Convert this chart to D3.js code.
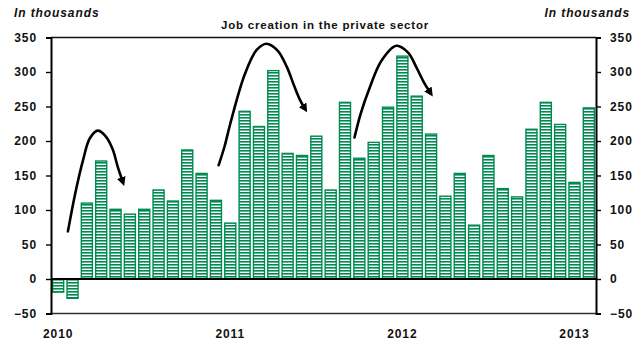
<!DOCTYPE html>
<html>
<head>
<meta charset="utf-8">
<script src="https://cdn.jsdelivr.net/npm/d3@7"></script>
<style>
  html, body { margin: 0; padding: 0; background: #fff; }
  svg text { font-family: "Liberation Sans", Arial, sans-serif; font-weight: bold; fill: #111; }
</style>
</head>
<body>
<svg id="chart" width="644" height="344"></svg>
<script>
// Monthly private-sector job creation, in thousands (Jan 2010 – Feb 2013)
const categories = [
  "2010-01","2010-02","2010-03","2010-04","2010-05","2010-06","2010-07","2010-08","2010-09","2010-10","2010-11","2010-12",
  "2011-01","2011-02","2011-03","2011-04","2011-05","2011-06","2011-07","2011-08","2011-09","2011-10","2011-11","2011-12",
  "2012-01","2012-02","2012-03","2012-04","2012-05","2012-06","2012-07","2012-08","2012-09","2012-10","2012-11","2012-12",
  "2013-01","2013-02"
];
const jobs = [
  -19, -28, 110, 171, 101, 94, 101, 129, 113, 187, 153, 114,
  81, 243, 221, 302, 182, 179, 207, 129, 256, 175, 198, 249,
  323, 265, 210, 120, 153, 78, 179, 131, 119, 217, 256, 224,
  140, 248
];
const yTicks = [-50, 0, 50, 100, 150, 200, 250, 300, 350];
const yearLabels = [
  { label: "2010", at: "2010-01" },
  { label: "2011", at: "2011-01" },
  { label: "2012", at: "2012-01" },
  { label: "2013", at: "2013-01" }
];
// Hand-drawn seasonal arcs, as [month index, thousands]
const arcs = [
  [[0.68, 69], [1.2, 125], [1.73, 172], [2.21, 204], [2.77, 215], [3.3, 207], [3.8, 188], [4.16, 162], [4.5, 141]],
  [[11.19, 165], [11.6, 192], [12.0, 225], [13.0, 296], [13.84, 332], [14.53, 341], [15.3, 331], [15.95, 307], [16.45, 280], [16.85, 260], [17.2, 247]],
  [[20.66, 205], [21.1, 240], [21.7, 276], [22.53, 316], [23.58, 338], [24.4, 328], [24.97, 307], [25.5, 285], [25.95, 270]]
];

const green = "#008a52";
const svg = d3.select("#chart");
const margin = { left: 51, right: 48, top: 37.5, bottom: 30.5 };
const W = 644, H = 344;

const x = d3.scaleBand()
  .domain(categories)
  .range([margin.left, W - margin.right])
  .paddingInner(0.16)
  .paddingOuter(0.08);

const y = d3.scaleLinear()
  .domain([-50, 350])
  .range([H - margin.bottom, margin.top]);

// Horizontal stripe fill for the bars
const defs = svg.append("defs");
const pat = defs.append("pattern")
  .attr("id", "stripes")
  .attr("patternUnits", "userSpaceOnUse")
  .attr("width", 6).attr("height", 3);
pat.append("rect").attr("width", 6).attr("height", 3).attr("fill", "#fff");
pat.append("rect").attr("width", 6).attr("height", 1.6).attr("fill", green);

defs.append("marker")
  .attr("id", "head")
  .attr("viewBox", "0 0 10 10")
  .attr("refX", 5).attr("refY", 5)
  .attr("markerWidth", 3.4).attr("markerHeight", 3.4)
  .attr("orient", "auto")
  .append("path")
  .attr("d", "M0,0 L10,5 L0,10 Z")
  .attr("fill", "#000");

// Bars
svg.append("g").selectAll("rect")
  .data(jobs)
  .join("rect")
  .attr("x", (d, i) => x(categories[i]) + 0.5)
  .attr("width", x.bandwidth() - 1)
  .attr("y", d => y(Math.max(0, d)))
  .attr("height", d => Math.abs(y(d) - y(0)))
  .attr("fill", "url(#stripes)")
  .attr("stroke", green)
  .attr("stroke-width", 1.4);

// Plot frame
const x0 = margin.left, x1 = W - margin.right;
svg.append("line").attr("x1", x0).attr("x2", x1).attr("y1", y(350)).attr("y2", y(350))
  .attr("stroke", "#111").attr("stroke-width", 1.6);
svg.append("line").attr("x1", x0).attr("x2", x1).attr("y1", y(-50)).attr("y2", y(-50))
  .attr("stroke", "#333").attr("stroke-width", 1.4);
svg.append("line").attr("x1", x0).attr("x2", x1).attr("y1", y(0)).attr("y2", y(0))
  .attr("stroke", "#000").attr("stroke-width", 1.8);

// Value axes on both sides
const leftAxis = svg.append("g")
  .attr("transform", `translate(${x0},0)`)
  .call(d3.axisLeft(y).tickValues(yTicks).tickSize(5).tickPadding(9));
const rightAxis = svg.append("g")
  .attr("transform", `translate(${x1},0)`)
  .call(d3.axisRight(y).tickValues(yTicks).tickSize(5).tickPadding(9));
[leftAxis, rightAxis].forEach(g => {
  g.select(".domain").attr("stroke", "#000").attr("stroke-width", 2);
  g.selectAll(".tick line").attr("stroke", "#000").attr("stroke-width", 1.4);
  g.selectAll(".tick text")
    .attr("font-size", 12)
    .attr("font-family", "Liberation Sans, Arial, sans-serif")
    .attr("font-weight", "bold")
    .attr("letter-spacing", "0.9px")
    .attr("fill", "#111");
});

// Year labels under January bars
svg.append("g").selectAll("text")
  .data(yearLabels)
  .join("text")
  .attr("x", d => x(d.at) + x.bandwidth() / 2)
  .attr("y", 338)
  .attr("text-anchor", "middle")
  .attr("font-size", 12)
  .attr("letter-spacing", "0.9px")
  .text(d => d.label);

// Titles
svg.append("text").attr("x", 14).attr("y", 17)
  .attr("font-size", 12).attr("font-style", "italic").attr("letter-spacing", "0.9px")
  .text("In thousands");
svg.append("text").attr("x", 630).attr("y", 17).attr("text-anchor", "end")
  .attr("font-size", 12).attr("font-style", "italic").attr("letter-spacing", "0.9px")
  .text("In thousands");
svg.append("text").attr("x", 325).attr("y", 29).attr("text-anchor", "middle")
  .attr("font-size", 11.5).attr("letter-spacing", "0.8px")
  .text("Job creation in the private sector");

// Arcs with arrowheads
const step = x.step();
const cx = i => x(categories[0]) + x.bandwidth() / 2 + i * step;
const arcLine = d3.line().x(d => cx(d[0])).y(d => y(d[1])).curve(d3.curveCatmullRom.alpha(0.5));
svg.append("g").selectAll("path")
  .data(arcs)
  .join("path")
  .attr("d", arcLine)
  .attr("fill", "none")
  .attr("stroke", "#000")
  .attr("stroke-width", 2.6)
  .attr("stroke-linecap", "round")
  .attr("marker-end", "url(#head)");
</script>
</body>
</html>
